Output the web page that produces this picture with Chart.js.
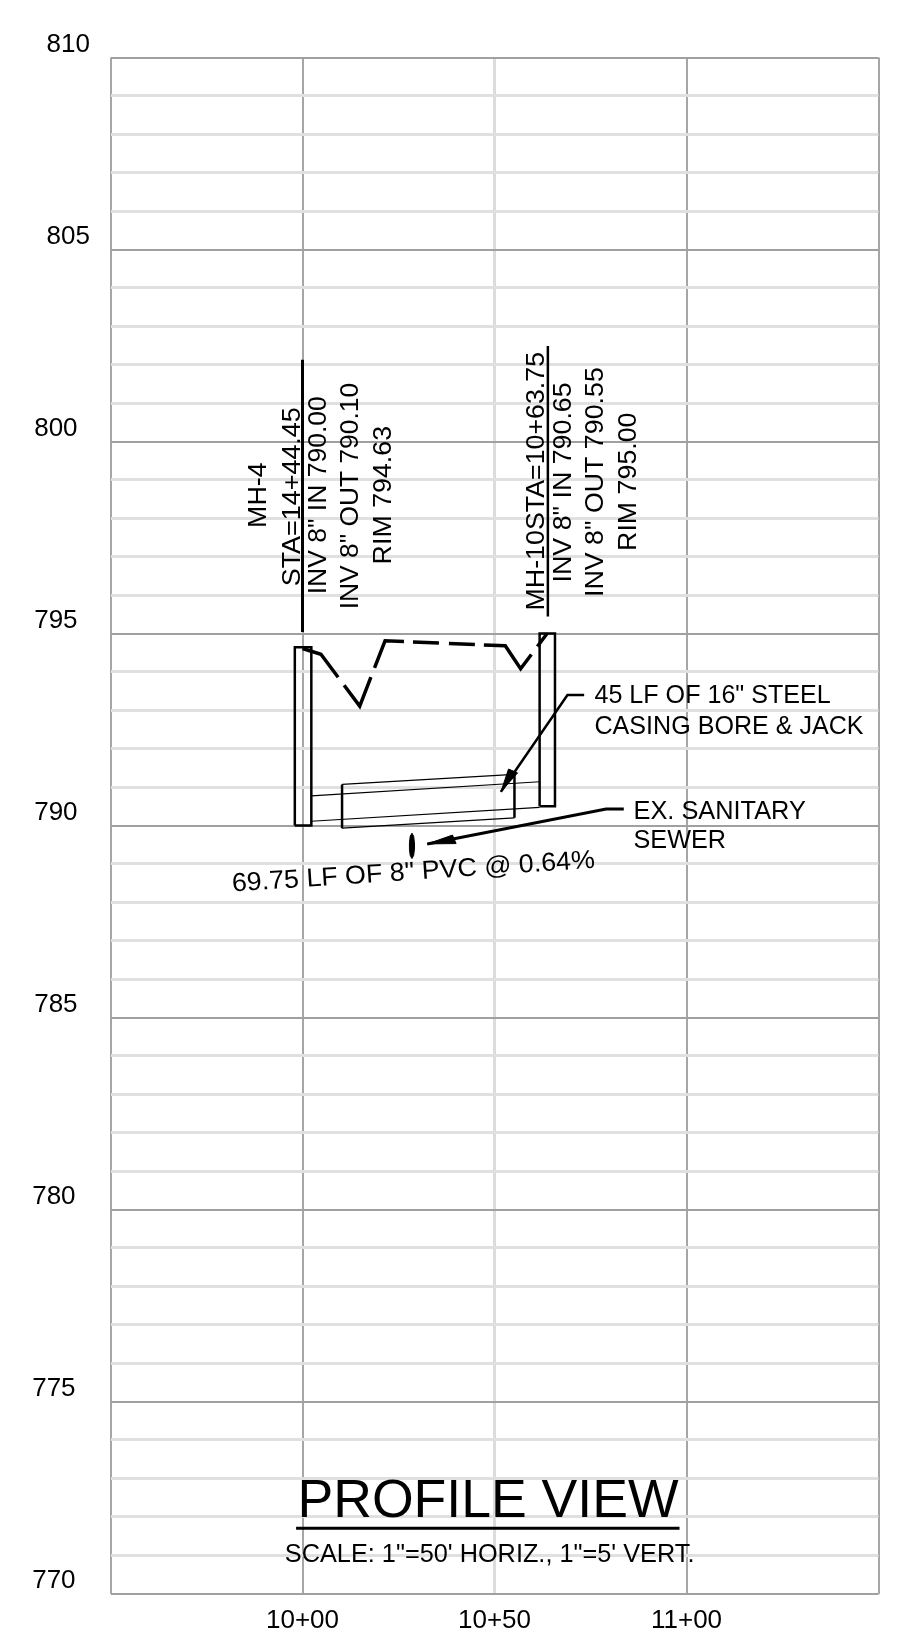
<!DOCTYPE html>
<html>
<head>
<meta charset="utf-8">
<title>Profile view</title>
<script src="https://cdn.jsdelivr.net/npm/chart.js@4"></script>
<style>
  html, body { margin: 0; padding: 0; background: #fff; }
  canvas { display: block; }
</style>
</head>
<body>
<canvas id="profile" width="900" height="1637"></canvas>
<script>
// axis labels
const stationTicks = [950, 1000, 1050, 1100, 1150];
const stationLabels = ['', '10+00', '10+50', '11+00', ''];
const elevTicks = [810, 805, 800, 795, 790, 785, 780, 775, 770];
// trailing spaces: the labels don't sit in one column in the drawing
const elevLabels = ['810', '805', '800\u00A0\u2009', '795\u00A0\u2009', '790\u00A0\u2009', '785\u00A0\u2009', '780\u00A0\u00A0', '775\u00A0\u00A0', '770\u00A0\u00A0'];

// manholes
const mh4Box = [[998, 790], [998, 794.64], [1002.3, 794.64], [1002.3, 790], [998, 790]];
const mh10Box = [[1061.75, 790.5], [1061.75, 795], [1065.75, 795], [1065.75, 790.5], [1061.75, 790.5]];
const mh4Leader = [[1000, 802.13], [1000, 795.04]];
const mh10Leader = [[1063.9, 802.49], [1063.9, 795.44]];

// sewer pipe and steel casing
const pipeTop = [[1002.3, 790.77], [1061.75, 791.14]];
const pipeBottom = [[1002.3, 790.11], [1061.75, 790.47]];
const casingTop = [[1010.3, 791.07], [1055.2, 791.33]];
const casingBottom = [[1010.3, 789.93], [1055.2, 790.2]];
const casingLeft = [[1010.3, 791.07], [1010.3, 789.93]];
const casingRight = [[1055.2, 791.33], [1055.2, 790.2]];

// existing ground
const ground = [[1000, 794.61], [1004.8, 794.46], [1014.9, 793.11], [1021.5, 794.81], [1052.8, 794.68], [1056.8, 794.08], [1063.7, 795]];

// callouts
const casingArrow = [[1073.35, 793.4], [1069, 793.4], [1051.67, 790.88]];
const casingHead = [[1051.67, 790.88], [1053.65, 791.47], [1056, 791.37], [1051.67, 790.88]];
const sewerArrow = [[1083.67, 790.43], [1079.06, 790.43], [1032.5, 789.52]];
const sewerHead = [[1032.5, 789.52], [1039.06, 789.75], [1040, 789.53], [1032.5, 789.52]];
const tickMark = [[1028.5, 789.8], [1028.95, 789.72], [1029.15, 789.55], [1029.15, 789.38], [1028.95, 789.22], [1028.5, 789.14], [1028.05, 789.22], [1027.85, 789.38], [1027.85, 789.55], [1028.05, 789.72], [1028.5, 789.8]];
const titleRule = [[998.33, 771.7], [1098.18, 771.7]];

// text notes: string, station, elevation, font px, angle, stretch along the text
const notes = [
  ['MH-4', 990.55, 797.75, 26, -90, 1.03],
  ['STA=14+44.45', 999.22, 796.23, 26, -90, 1.035],
  ['INV 8" IN 790.00', 1006.17, 796.02, 26, -90, 1.02],
  ['INV 8" OUT 790.10', 1014.5, 795.63, 26, -90, 1.015],
  ['RIM 794.63', 1023.1, 796.8, 26, -90, 1.03],
  ['MH-10STA=10+63.75', 1062.84, 795.6, 26, -90, 1.03],
  ['INV 8" IN 790.65', 1069.97, 796.33, 26, -90, 1.03],
  ['INV 8" OUT 790.55', 1078.3, 795.95, 26, -90, 1.03],
  ['RIM 795.00', 1086.72, 797.15, 26, -90, 1.03],
  ['45 LF OF 16" STEEL', 1076.04, 793.18, 26, 0, 0.965],
  ['CASING BORE & JACK', 1076.04, 792.38, 26, 0, 0.965],
  ['EX. SANITARY', 1086.2, 790.17, 26, 0, 0.975],
  ['SEWER', 1086.2, 789.41, 26, 0, 0.97],
  ['69.75 LF OF 8" PVC @ 0.64%', 981.74, 788.28, 26, -3.75, 1.033],
  ['PROFILE VIEW', 998.7, 772, 54, 0, 0.992],
  ['SCALE: 1"=50\' HORIZ., 1"=5\' VERT.', 995.4, 770.83, 26, 0, 0.973]
];

function line(points, width, extra) {
  return Object.assign({
    data: points.map(p => ({ x: p[0], y: p[1] })),
    showLine: true,
    borderColor: '#000',
    backgroundColor: '#000',
    borderWidth: width,
    pointRadius: 0,
    tension: 0,
    fill: false,
    borderJoinStyle: 'miter'
  }, extra || {});
}

const noteText = {
  id: 'noteText',
  afterDatasetsDraw(chart) {
    const ctx = chart.ctx;
    notes.forEach(n => {
      ctx.save();
      ctx.translate(chart.scales.x.getPixelForValue(n[1]), chart.scales.y.getPixelForValue(n[2]));
      ctx.rotate(n[4] * Math.PI / 180);
      ctx.scale(n[5], 1);
      ctx.font = n[3] + 'px "Liberation Sans"';
      ctx.fillStyle = '#000';
      ctx.textAlign = 'left';
      ctx.textBaseline = 'alphabetic';
      ctx.fillText(n[0], 0, 0);
      ctx.restore();
    });
  }
};

new Chart(document.getElementById('profile'), {
  type: 'scatter',
  data: {
    datasets: [
      line(ground, 3.5, { borderDash: [48, 10, 57, 10, 48, 9, 26, 10, 26, 9, 67, 10, 20, 10] }),
      line(mh4Box, 2.5),
      line(mh10Box, 2.5),
      line(mh4Leader, 3),
      line(mh10Leader, 2.5),
      line(pipeTop, 1.2),
      line(pipeBottom, 1.2),
      line(casingTop, 1.2),
      line(casingBottom, 1.2),
      line(casingLeft, 2.5),
      line(casingRight, 2.5),
      line(casingArrow, 2.5),
      line(casingHead, 1, { fill: 'shape' }),
      line(sewerArrow, 3),
      line(sewerHead, 1, { fill: 'shape' }),
      line(tickMark, 1, { fill: 'shape' }),
      line(titleRule, 3)
    ]
  },
  options: {
    responsive: false,
    animation: false,
    layout: { padding: { top: 57.5, right: 21.5, left: 0, bottom: 0 } },
    plugins: { legend: { display: false }, title: { display: false }, tooltip: { enabled: false } },
    scales: {
      x: {
        type: 'linear',
        min: 950,
        max: 1150,
        afterBuildTicks(axis) { axis.ticks = stationTicks.map(v => ({ value: v })); },
        afterFit(axis) { axis.height = 43.5; },
        border: { display: false },
        grid: {
          drawTicks: false,
          color: c => c.tick.value === 1050 ? '#dcdcdc' : '#a6a6a6',
          lineWidth: c => c.tick.value === 1050 ? 3 : 2
        },
        ticks: {
          autoSkip: false,
          maxRotation: 0,
          padding: 12,
          color: '#000',
          font: { family: '"Liberation Sans"', size: 26 },
          callback: v => stationLabels[stationTicks.indexOf(v)]
        }
      },
      y: {
        type: 'linear',
        min: 770,
        max: 810,
        afterFit(axis) { axis.width = 110.5; },
        border: { display: false },
        grid: {
          drawTicks: false,
          color: c => c.tick.value % 5 === 0 ? '#a0a0a0' : '#e0e0e0',
          lineWidth: c => c.tick.value % 5 === 0 ? 2 : 3
        },
        ticks: {
          stepSize: 1,
          autoSkip: false,
          padding: 20.5,
          labelOffset: -12.5,
          color: '#000',
          font: { family: '"Liberation Sans"', size: 26 },
          callback: v => elevTicks.includes(v) ? elevLabels[elevTicks.indexOf(v)] : ''
        }
      }
    }
  },
  plugins: [noteText]
});
</script>
</body>
</html>
